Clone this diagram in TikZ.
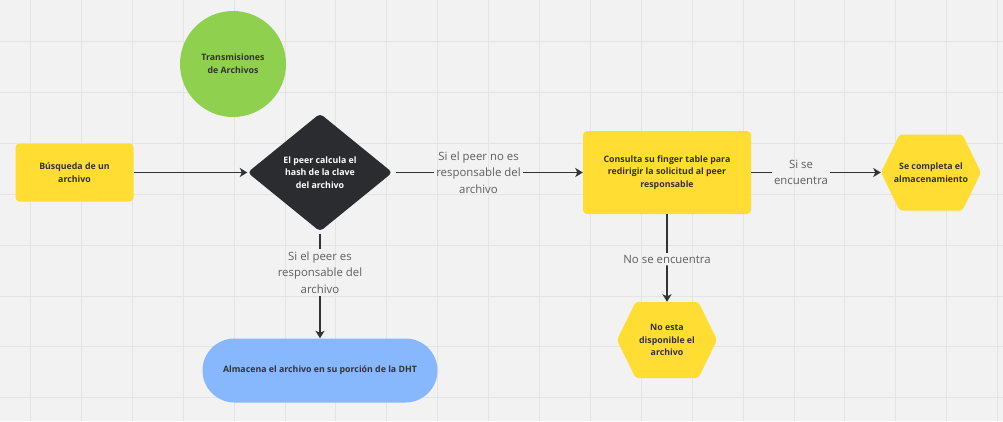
\documentclass[tikz,border=0pt]{standalone}
\usepackage{fontspec}
\setmainfont{Open Sans}
\usetikzlibrary{arrows.meta}
\usetikzlibrary{shapes.geometric}
\usetikzlibrary{shapes.symbols}

\definecolor{fondo}{HTML}{F2F2F2}
\definecolor{rejilla}{HTML}{E4E4E4}
\definecolor{amarillo}{HTML}{FFDD33}
\definecolor{verde}{HTML}{8FD14F}
\definecolor{azul}{HTML}{87B8FD}
\definecolor{oscuro}{HTML}{2B2C30}
\definecolor{trazo}{HTML}{333333}
\definecolor{gris}{HTML}{5E5E5E}

\tikzset{
  texto/.style={font=\bfseries\fontsize{8.8}{12.7}\selectfont, text=trazo, align=center},
  caja/.style={texto, rectangle, fill=amarillo, rounded corners=4pt},
  circulo/.style={texto, circle, fill=verde, minimum size=106},
  rombo/.style={texto, diamond, fill=oscuro, text=white, rounded corners=4pt,
    minimum width=145, minimum height=118, inner sep=0pt},
  hexa/.style={texto, signal, signal to=west and east, signal pointer angle=128,
    fill=amarillo, rounded corners=3pt, minimum width=100, minimum height=76,
    inner ysep=1pt, inner xsep=-6pt},
  pastilla/.style={texto, rectangle, fill=azul, rounded corners=32pt,
    minimum width=235, minimum height=64},
  etiqueta/.style={font=\fontsize{11.4}{16.7}\selectfont, text=gris, align=center, inner sep=2pt},
  linea/.style={draw=trazo, line width=1.6pt},
  flecha/.style={linea, -{Stealth[length=7.5pt, width=9pt, inset=2pt]}}
}

\begin{document}
\begin{tikzpicture}[x=1pt, y=-1pt]

  \useasboundingbox (0,0) rectangle (1003,421);
  \fill[fondo] (0,0) rectangle (1003,421);

  % Grid
  \foreach \i in {0,...,19}
    \draw[rejilla, line width=0.9pt] ({30.5+50.9*\i},0) -- ({30.5+50.9*\i},421);
  \foreach \j in {0,...,7}
    \draw[rejilla, line width=0.9pt] (0,{41.5+50.9*\j}) -- (1003,{41.5+50.9*\j});

  % Shapes
  \node[circulo] (titulo) at (233,64) {Transmisiones\\de Archivos};
  \node[caja, minimum width=118, minimum height=58] (busqueda) at (74.5,172.5) {Búsqueda de un\\archivo};
  \node[rombo] (hash) at (320,172.5) {El peer calcula el\\hash de la clave\\del archivo};
  \node[caja, minimum width=168, minimum height=83] (consulta) at (667,172.5)
    {Consulta su finger table para\\redirigir la solicitud al peer\\responsable};
  \node[hexa] (completa) at (931,172.5) {Se completa el\\almacenamiento};
  \node[hexa] (nodisp) at (667,340) {No esta\\disponible el\\archivo};
  \node[pastilla] (almacena) at (320,370.5) {Almacena el archivo en su porción de la DHT};

  % Edge labels
  \node[etiqueta] (noresp) at (478.5,172.5) {Si el peer no es\\responsable del\\archivo};
  \node[etiqueta] (siresp) at (320,272.5) {Si el peer es\\responsable del\\archivo};
  \node[etiqueta] (encuentra) at (801,172.5) {Si se\\encuentra};
  \node[etiqueta] (noencuentra) at (667,259) {No se encuentra};

  % Connectors
  \draw[flecha] (busqueda) -- (hash);
  \draw[linea, shorten <=3pt] (hash) -- (noresp);
  \draw[flecha] (noresp) -- (consulta);
  \draw[linea, shorten <=2pt] (hash) -- (siresp);
  \draw[flecha] (siresp) -- (almacena);
  \draw[linea] (consulta) -- (encuentra);
  \draw[flecha] (encuentra) -- (completa);
  \draw[linea] (consulta) -- (noencuentra);
  \draw[flecha] (noencuentra) -- (nodisp);

\end{tikzpicture}
\end{document}
